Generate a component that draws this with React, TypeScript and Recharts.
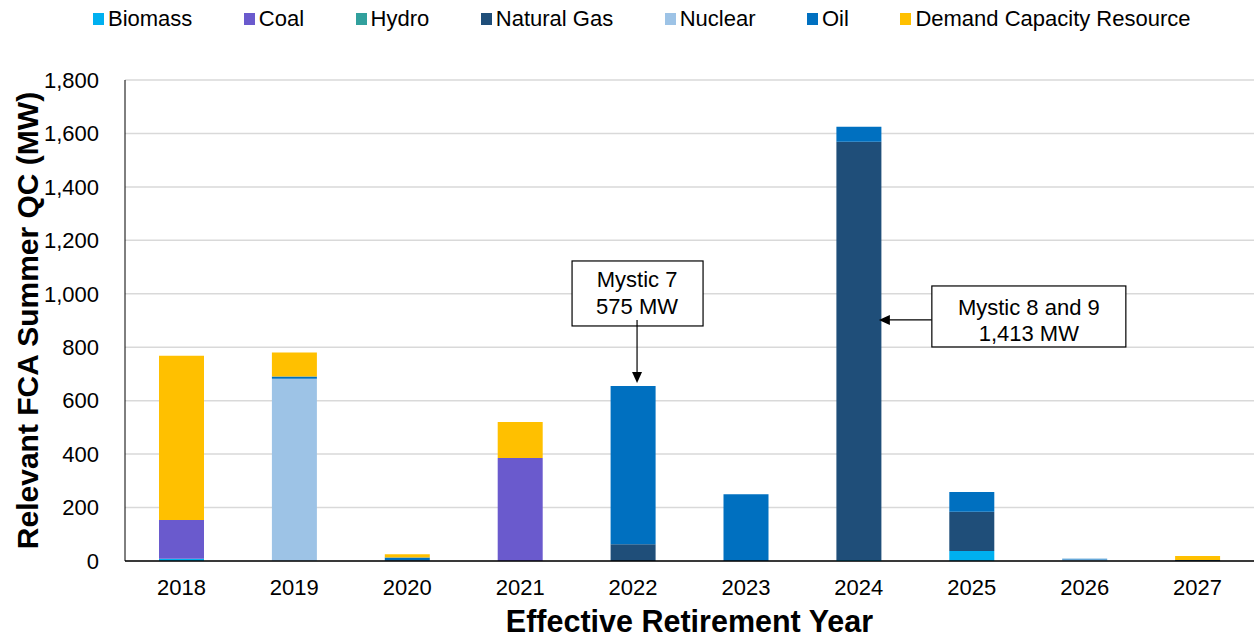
import React from 'react';
import { BarChart, Bar, XAxis, YAxis, CartesianGrid, ReferenceDot } from 'recharts';

const years = ['2018', '2019', '2020', '2021', '2022', '2023', '2024', '2025', '2026', '2027'];
const biomass = [8, 0, 0, 0, 0, 0, 4, 37, 0, 0];
const coal = [145, 0, 0, 385, 0, 0, 0, 0, 0, 0];
const hydro = [0, 0, 0, 0, 0, 0, 0, 0, 0, 0];
const naturalGas = [0, 0, 3, 0, 63, 0, 1565, 147, 0, 4];
const nuclear = [0, 682, 0, 0, 0, 0, 0, 0, 6, 0];
const oil = [0, 8, 10, 0, 592, 250, 56, 74, 2, 0];
const dcr = [615, 90, 12, 135, 0, 0, 0, 0, 0, 15];
const yTicks = [0, 200, 400, 600, 800, 1000, 1200, 1400, 1600, 1800];

const series = [
  { key: 'biomass', name: 'Biomass', color: '#00B0F0', values: biomass },
  { key: 'coal', name: 'Coal', color: '#6A5ACD', values: coal },
  { key: 'hydro', name: 'Hydro', color: '#31A09D', values: hydro },
  { key: 'naturalGas', name: 'Natural Gas', color: '#1F4E79', values: naturalGas },
  { key: 'nuclear', name: 'Nuclear', color: '#9DC3E6', values: nuclear },
  { key: 'oil', name: 'Oil', color: '#0070C0', values: oil },
  { key: 'dcr', name: 'Demand Capacity Resource', color: '#FFC000', values: dcr },
];

const data = years.map((year, i) => {
  const row: any = { year };
  series.forEach((s) => { row[s.key] = s.values[i]; });
  return row;
});

const total = (i: number) => series.reduce((acc, s) => acc + s.values[i], 0);
const idx2022 = years.indexOf('2022');
const mystic7Y = total(idx2022);
const mystic89Y = 902;

const FONT = '"Liberation Sans", Arial, sans-serif';

const LegendBox = () => (
  <div style={{ position: 'absolute', left: 93, top: 7, height: 24, display: 'flex', alignItems: 'center', fontFamily: FONT, fontSize: 22, color: '#000', whiteSpace: 'nowrap' }}>
    {series.map((s, i) => (
      <div key={s.key} style={{ display: 'flex', alignItems: 'center', marginRight: i < series.length - 1 ? 51.5 : 0 }}>
        <div style={{ width: 11, height: 12, background: s.color, marginRight: 4 }} />
        <span>{s.name}</span>
      </div>
    ))}
  </div>
);

const Mystic7Shape = (props: any) => {
  const { cx, cy } = props;
  const ax = cx + 4;
  return (
    <g>
      <rect x={ax - 65} y={cy - 125} width={131} height={65} fill="#fff" stroke="#000" strokeWidth={1.2} />
      <text x={ax} y={cy - 99} textAnchor="middle" fontFamily={FONT} fontSize={22} fill="#000">Mystic 7</text>
      <text x={ax} y={cy - 72} textAnchor="middle" fontFamily={FONT} fontSize={22} fill="#000">575 MW</text>
      <line x1={ax} y1={cy - 66} x2={ax} y2={cy - 12} stroke="#000" strokeWidth={1.2} />
      <polygon points={`${ax - 5},${cy - 14} ${ax + 5},${cy - 14} ${ax},${cy - 3}`} fill="#000" />
    </g>
  );
};

const Mystic89Shape = (props: any) => {
  const { cx, cy } = props;
  const tip = cx + 20;
  const bx = cx + 73;
  const w = 194;
  return (
    <g>
      <line x1={bx} y1={cy} x2={tip + 9} y2={cy} stroke="#000" strokeWidth={1.2} />
      <polygon points={`${tip},${cy} ${tip + 11},${cy - 5} ${tip + 11},${cy + 5}`} fill="#000" />
      <rect x={bx} y={cy - 34} width={w} height={61} fill="#fff" stroke="#000" strokeWidth={1.2} />
      <text x={bx + w / 2} y={cy - 5} textAnchor="middle" fontFamily={FONT} fontSize={22} fill="#000">Mystic 8 and 9</text>
      <text x={bx + w / 2} y={cy + 21} textAnchor="middle" fontFamily={FONT} fontSize={22} fill="#000">1,413 MW</text>
    </g>
  );
};

export default function App() {
  return (
    <div style={{ position: 'absolute', left: 0, top: 0, width: 1254, height: 637, background: '#fff', overflow: 'hidden' }}>
      <LegendBox />
      <BarChart width={1254} height={637} data={data} margin={{ top: 80, right: 0, bottom: 0, left: 0 }} style={{ overflow: 'visible' }}>
        <CartesianGrid vertical={false} stroke="#D9D9D9" strokeWidth={1.5} />
        <XAxis
          dataKey="year"
          height={76}
          tickLine={false}
          axisLine={{ stroke: '#000', strokeWidth: 1.5 }}
          tick={{ fontFamily: FONT, fontSize: 22, fill: '#000' }}
          tickMargin={12}
          label={{ value: 'Effective Retirement Year', position: 'insideBottom', offset: 5, style: { fontFamily: FONT, fontSize: 30.5, fontWeight: 'bold', fill: '#000' } }}
        />
        <YAxis
          width={125}
          domain={[0, 1800]}
          ticks={yTicks}
          interval={0}
          tickLine={false}
          axisLine={{ stroke: '#000', strokeWidth: 1 }}
          tick={{ fontFamily: FONT, fontSize: 22, fill: '#000' }}
          tickFormatter={(v: number) => v.toLocaleString('en-US')}
          tickMargin={20}
          label={{ value: 'Relevant FCA Summer QC (MW)', angle: -90, position: 'insideLeft', offset: 27, style: { fontFamily: FONT, fontSize: 30, fontWeight: 'bold', fill: '#000', textAnchor: 'middle' } }}
        />
        {series.map((s) => (
          <Bar key={s.key} dataKey={s.key} name={s.name} stackId="a" fill={s.color} barSize={45} isAnimationActive={false} />
        ))}
        <ReferenceDot x="2022" y={mystic7Y} r={0} ifOverflow="visible" shape={Mystic7Shape} />
        <ReferenceDot x="2024" y={mystic89Y} r={0} ifOverflow="visible" shape={Mystic89Shape} />
      </BarChart>
    </div>
  );
}
